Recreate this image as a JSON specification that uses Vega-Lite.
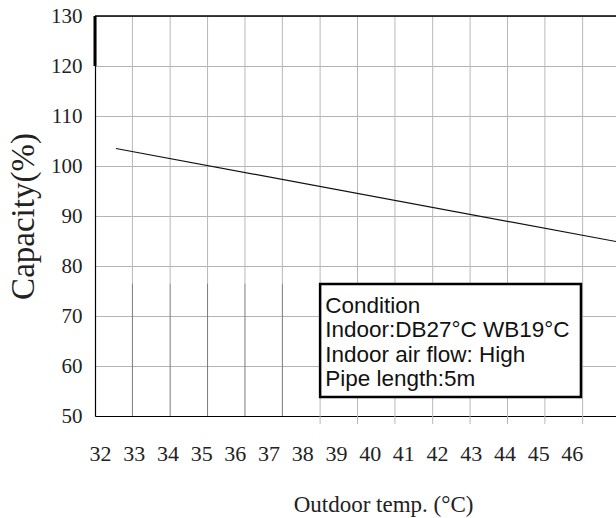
{
  "$schema": "https://vega.github.io/schema/vega-lite/v6.json",
  "width": 521,
  "height": 400,
  "autosize": {"type": "none"},
  "padding": {"left": 95, "top": 16, "right": 0, "bottom": 102},
  "background": "white",
  "config": {"view": {"stroke": null}},
  "datasets": {
    "grid": [
      {"t": 32.96, "cap": 130, "cap2": 76.5, "seg": "upper"},
      {"t": 34.08, "cap": 130, "cap2": 76.5, "seg": "upper"},
      {"t": 35.19, "cap": 130, "cap2": 76.5, "seg": "upper"},
      {"t": 36.30, "cap": 130, "cap2": 76.5, "seg": "upper"},
      {"t": 37.41, "cap": 130, "cap2": 76.5, "seg": "upper"},
      {"t": 32.96, "cap": 76.5, "cap2": 50, "seg": "lower"},
      {"t": 34.08, "cap": 76.5, "cap2": 50, "seg": "lower"},
      {"t": 35.19, "cap": 76.5, "cap2": 50, "seg": "lower"},
      {"t": 36.30, "cap": 76.5, "cap2": 50, "seg": "lower"},
      {"t": 37.41, "cap": 76.5, "cap2": 50, "seg": "lower"},
      {"t": 38.53, "cap": 130, "cap2": 48.4, "seg": "upper"},
      {"t": 39.64, "cap": 130, "cap2": 48.4, "seg": "upper"},
      {"t": 40.75, "cap": 130, "cap2": 48.4, "seg": "upper"},
      {"t": 41.87, "cap": 130, "cap2": 48.4, "seg": "upper"},
      {"t": 42.98, "cap": 130, "cap2": 48.4, "seg": "upper"},
      {"t": 44.09, "cap": 130, "cap2": 48.4, "seg": "upper"},
      {"t": 45.20, "cap": 130, "cap2": 48.4, "seg": "upper"},
      {"t": 46.32, "cap": 130, "cap2": 48.4, "seg": "upper"}
    ],
    "curve": [
      {"t": 32.47, "cap": 103.5},
      {"t": 47.31, "cap": 84.9}
    ],
    "box": [
      {"t": 38.53, "t2": 46.27, "cap": 76.4, "cap2": 53.8}
    ],
    "notes": [
      {"t": 38.68, "cap": 70.7, "label": "Condition"},
      {"t": 38.68, "cap": 65.8, "label": "Indoor:DB27°C WB19°C"},
      {"t": 38.68, "cap": 60.9, "label": "Indoor air flow: High"},
      {"t": 38.68, "cap": 56.0, "label": "Pipe length:5m"}
    ],
    "edge": [
      {"t": 31.85, "cap": 130, "cap2": 120}
    ],
    "topline": [
      {"t": 31.85, "t2": 47.31, "cap": 130}
    ]
  },
  "encoding": {
    "x": {"field": "t", "type": "quantitative", "scale": {"domain": [31.85, 47.31], "nice": false, "zero": false},
      "axis": {"values": [32, 33, 34, 35, 36, 37, 38, 39, 40, 41, 42, 43, 44, 45, 46], "title": "Outdoor temp.  (°C)", "grid": false, "ticks": false, "domainColor": "#000000", "domainWidth": 1.2, "labelFont": "Liberation Serif", "labelFontSize": 22, "labelBaseline": "alphabetic", "labelPadding": 44, "labelColor": "#222222", "labelFlush": false, "labelOverlap": false, "titleFont": "Liberation Serif", "titleFontSize": 23, "titleFontWeight": "normal", "titleColor": "#222222", "titleX": 288, "titleY": 95, "titleBaseline": "alphabetic"}},
    "y": {"field": "cap", "type": "quantitative", "scale": {"domain": [50, 130], "nice": false},
      "axis": {"title": "Capacity(%)", "values": [50, 60, 70, 80, 90, 100, 110, 120, 130], "grid": true, "gridColor": "#b4b4b4", "gridWidth": 1, "ticks": false, "domainColor": "#000000", "domainWidth": 1.2, "labelFont": "Liberation Serif", "labelFontSize": 21, "labelColor": "#222222", "labelPadding": 13, "titleFont": "Liberation Serif", "titleFontSize": 33, "titleFontWeight": "normal", "titleColor": "#222222", "titlePadding": 10}}
  },
  "layer": [
    {
      "data": {"name": "grid"},
      "mark": {"type": "rule", "strokeWidth": 1},
      "encoding": {
        "y2": {"field": "cap2"},
        "color": {"field": "seg", "type": "nominal", "scale": {"domain": ["upper", "lower"], "range": ["#b8b8b8", "#7a7a7a"]}, "legend": null}
      }
    },
    {
      "data": {"name": "topline"},
      "mark": {"type": "rule", "color": "#000000", "strokeWidth": 1.5},
      "encoding": {"x2": {"field": "t2"}}
    },
    {
      "data": {"name": "curve"},
      "mark": {"type": "line", "color": "#111111", "strokeWidth": 1.2},
      "encoding": {}
    },
    {
      "data": {"name": "box"},
      "mark": {"type": "rect", "fill": "white", "stroke": "#000000", "strokeWidth": 2.5},
      "encoding": {"x2": {"field": "t2"}, "y2": {"field": "cap2"}}
    },
    {
      "data": {"name": "notes"},
      "mark": {"type": "text", "align": "left", "baseline": "alphabetic", "font": "Liberation Sans", "fontSize": 22.5, "color": "#111111"},
      "encoding": {"text": {"field": "label"}}
    },
    {
      "data": {"name": "edge"},
      "mark": {"type": "rule", "color": "#000000", "strokeWidth": 3},
      "encoding": {"y2": {"field": "cap2"}}
    }
  ]
}
